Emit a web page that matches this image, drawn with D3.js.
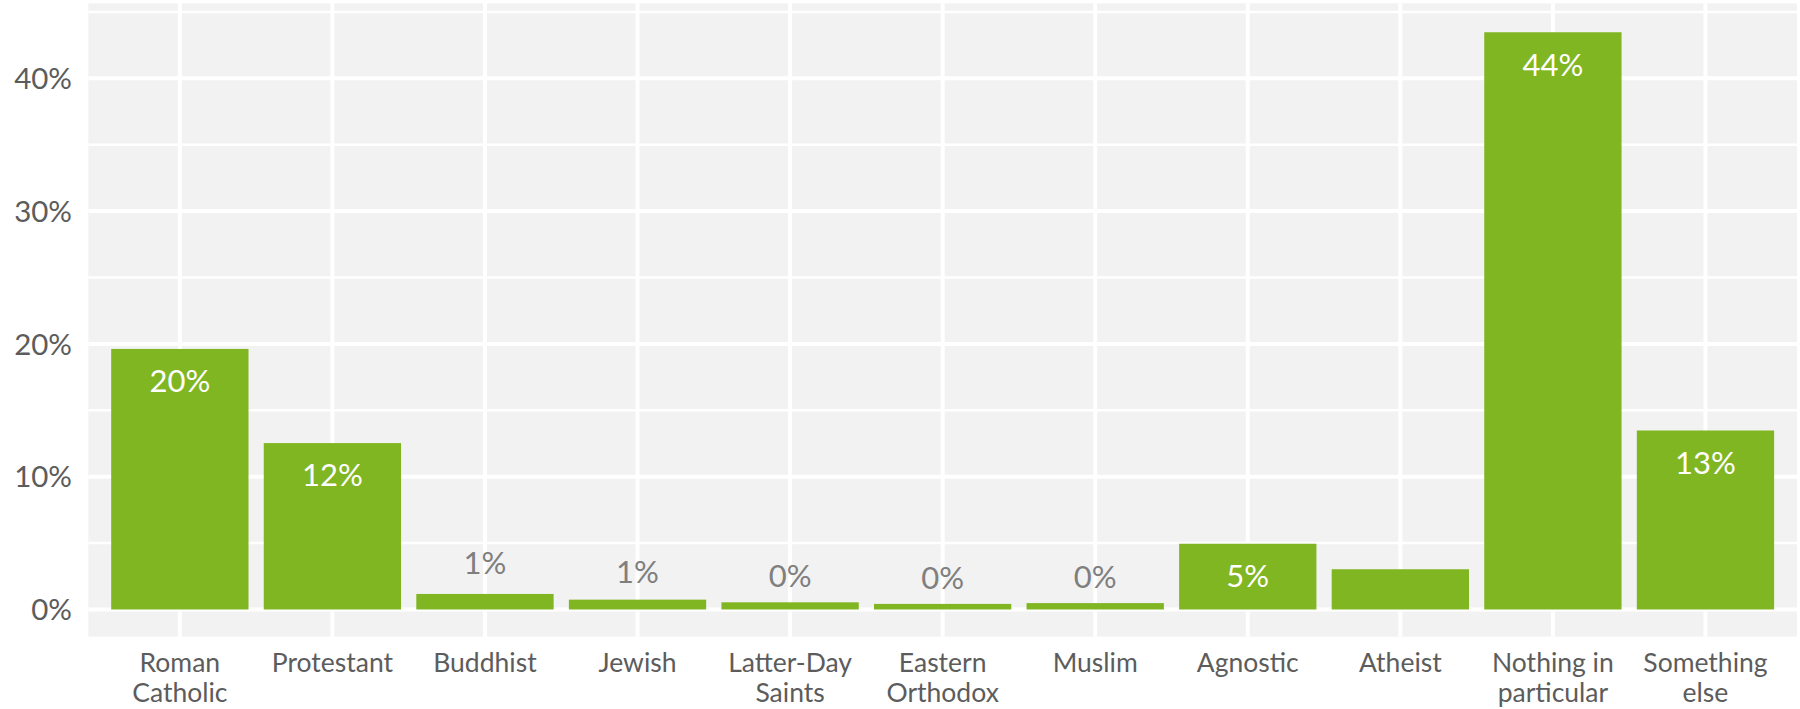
<!DOCTYPE html>
<html>
<head>
<meta charset="utf-8">
<script src="https://cdn.jsdelivr.net/npm/d3@7"></script>
<style>
  html, body { margin: 0; padding: 0; background: #ffffff; }
  svg { display: block; }
  text { font-family: Lato, "Open Sans", sans-serif; }
</style>
</head>
<body>
<svg id="chart" width="1800" height="709"></svg>
<script>
const categories = ["Roman Catholic", "Protestant", "Buddhist", "Jewish", "Latter-Day Saints",
  "Eastern Orthodox", "Muslim", "Agnostic", "Atheist", "Nothing in particular", "Something else"];
const categoryLines = [["Roman", "Catholic"], ["Protestant"], ["Buddhist"], ["Jewish"], ["Latter-Day", "Saints"],
  ["Eastern", "Orthodox"], ["Muslim"], ["Agnostic"], ["Atheist"], ["Nothing in", "particular"], ["Something", "else"]];
const values = [19.62, 12.53, 1.17, 0.74, 0.54, 0.42, 0.48, 4.95, 3.03, 43.47, 13.48];
const barLabels = ["20%", "12%", "1%", "1%", "0%", "0%", "0%", "5%", "", "44%", "13%"];
const labelInside = [true, true, false, false, false, false, false, true, true, true, true];
const majorTicks = [0, 10, 20, 30, 40];
const minorTicks = [5, 15, 25, 35, 45];
const tickLabels = ["0%", "10%", "20%", "30%", "40%"];

const svg = d3.select("#chart");
const panel = { left: 88.3, right: 1797, top: 3.3, bottom: 636.7 };

const x = d3.scaleBand()
  .domain(categories)
  .range([panel.left, panel.right])
  .paddingInner(0.1)
  .paddingOuter(0.15);

const y = d3.scaleLinear()
  .domain([-2.05, 45.65])
  .range([panel.bottom, panel.top]);

// panel background
svg.append("rect")
  .attr("x", panel.left).attr("y", panel.top)
  .attr("width", panel.right - panel.left)
  .attr("height", panel.bottom - panel.top)
  .attr("fill", "#f2f2f2");

// minor gridlines
svg.append("g").selectAll("line").data(minorTicks).join("line")
  .attr("x1", panel.left).attr("x2", panel.right)
  .attr("y1", d => y(d)).attr("y2", d => y(d))
  .attr("stroke", "#ffffff").attr("stroke-width", 2.5);

// major gridlines
svg.append("g").selectAll("line").data(majorTicks).join("line")
  .attr("x1", panel.left).attr("x2", panel.right)
  .attr("y1", d => y(d)).attr("y2", d => y(d))
  .attr("stroke", "#ffffff").attr("stroke-width", 4);

svg.append("g").selectAll("line").data(categories).join("line")
  .attr("x1", d => x(d) + x.bandwidth() / 2).attr("x2", d => x(d) + x.bandwidth() / 2)
  .attr("y1", panel.top).attr("y2", panel.bottom)
  .attr("stroke", "#ffffff").attr("stroke-width", 4);

// bars
svg.append("g").selectAll("rect").data(categories).join("rect")
  .attr("x", d => x(d))
  .attr("width", x.bandwidth())
  .attr("y", (d, i) => y(values[i]))
  .attr("height", (d, i) => y(0) - y(values[i]))
  .attr("fill", "#80b622");

// bar labels
svg.append("g").selectAll("text").data(categories).join("text")
  .attr("x", d => x(d) + x.bandwidth() / 2)
  .attr("y", (d, i) => labelInside[i] ? y(values[i] - 2.42) : y(values[i] * 1.5 + 1.75))
  .attr("dy", "0.36em")
  .attr("text-anchor", "middle")
  .attr("font-size", 31)
  .attr("font-weight", 400)
  .attr("fill", (d, i) => labelInside[i] ? "#ffffff" : "#7f7f7f")
  .text((d, i) => barLabels[i]);

// y axis labels
svg.append("g").selectAll("text").data(majorTicks).join("text")
  .attr("x", 72)
  .attr("y", d => y(d))
  .attr("dy", "0.36em")
  .attr("text-anchor", "end")
  .attr("font-size", 29.5)
  .attr("fill", "#5c5c5c")
  .text((d, i) => tickLabels[i]);

// x axis labels
const xl = svg.append("g").selectAll("text").data(categories).join("text")
  .attr("x", d => x(d) + x.bandwidth() / 2)
  .attr("y", 672)
  .attr("text-anchor", "middle")
  .attr("font-size", 26.5)
  .attr("fill", "#5c5c5c");
xl.selectAll("tspan").data((d, i) => categoryLines[i]).join("tspan")
  .attr("x", function () { return d3.select(this.parentNode).attr("x"); })
  .attr("dy", (d, j) => j === 0 ? 0 : 29.5)
  .text(d => d);
</script>
</body>
</html>
